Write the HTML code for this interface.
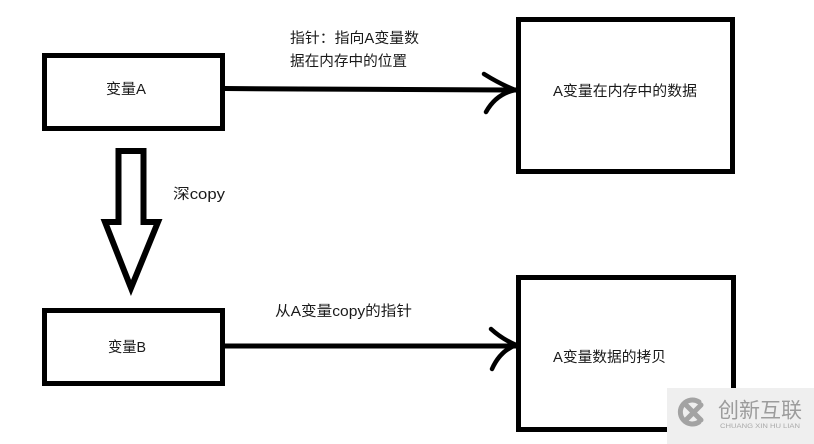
<!DOCTYPE html>
<html><head><meta charset="utf-8"><style>
html,body{margin:0;padding:0;background:#fff;}
svg{display:block;}
text{font-family:"Liberation Sans","Noto Sans CJK SC",sans-serif;fill:#1a1a1a;}
</style></head><body>
<svg width="814" height="444" viewBox="0 0 814 444" xmlns="http://www.w3.org/2000/svg">
<rect width="814" height="444" fill="#fff"/>
<g fill="none" stroke="#000" stroke-width="5">
  <rect x="44.5" y="55.5" width="178" height="73"/>
  <rect x="44.5" y="310.5" width="178" height="73"/>
  <rect x="518.5" y="19.5" width="214" height="152"/>
  <rect x="518.5" y="277.5" width="215" height="152"/>
</g>
<!-- connectors -->
<g fill="none" stroke="#000" stroke-linecap="round">
  <path d="M225 88.5 L300 89 L516 90" stroke-width="5"/>
  <path d="M484 74 Q500 84 515 90" stroke-width="4.5"/>
  <path d="M486 112 Q496 94 515 90" stroke-width="4.5"/>
  <path d="M225 346 L300 346 L516 346" stroke-width="5"/>
  <path d="M491 329 Q502 339 516 345" stroke-width="4.5"/>
  <path d="M492 369 Q500 351 516 345" stroke-width="4.5"/>
</g>
<!-- hollow arrow -->
<path d="M118.5 222 L118.5 151 L143.5 151 L143.5 222 L158 222 L131 288 L105 222 Z" fill="#fff" stroke="#000" stroke-width="6" stroke-linejoin="miter"/>
<!-- labels -->
<g font-size="14.5" dominant-baseline="central">
  <text x="106" y="90" textLength="40" lengthAdjust="spacingAndGlyphs">变量A</text>
  <text x="108" y="348" textLength="38" lengthAdjust="spacingAndGlyphs">变量B</text>
  <text x="173" y="195" textLength="52" lengthAdjust="spacingAndGlyphs">深copy</text>
  <text x="290" y="39" textLength="129" lengthAdjust="spacingAndGlyphs">指针：指向A变量数</text>
  <text x="290" y="62" textLength="117" lengthAdjust="spacingAndGlyphs">据在内存中的位置</text>
  <text x="275" y="312" textLength="137" lengthAdjust="spacingAndGlyphs">从A变量copy的指针</text>
  <text x="553" y="92" textLength="144" lengthAdjust="spacingAndGlyphs">A变量在内存中的数据</text>
  <text x="553" y="358" textLength="113" lengthAdjust="spacingAndGlyphs">A变量数据的拷贝</text>
</g>
<!-- watermark -->
<rect x="667" y="388" width="147" height="56" fill="#efefef"/>
<g stroke="#a3a3a3" fill="none" stroke-linecap="round">
  <path d="M699 402 A12 12 0 1 0 699 422" stroke-width="5"/>
  <path d="M686 405 L701 420 M701 405 L686 420" stroke-width="5"/>
</g>
<text x="718" y="411" font-size="21" dominant-baseline="central" textLength="84" lengthAdjust="spacingAndGlyphs" style="fill:#9c9c9c">创新互联</text>
<text x="720" y="427" font-size="6" dominant-baseline="central" textLength="80" lengthAdjust="spacingAndGlyphs" style="fill:#a8a8a8">CHUANG XIN HU LIAN</text>
</svg>
</body></html>
